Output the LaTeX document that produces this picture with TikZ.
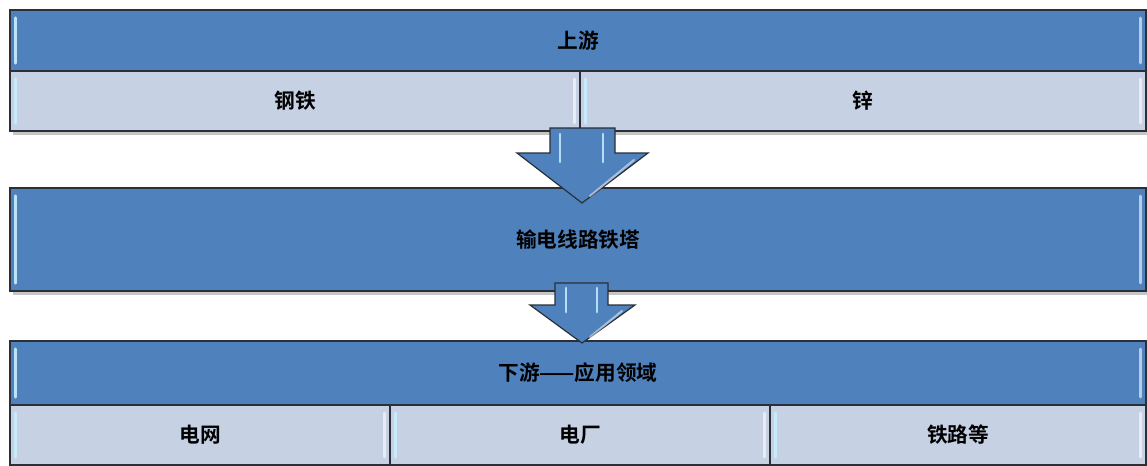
\documentclass[tikz,border=0pt]{standalone}
\usepackage{fontspec}
\newfontfamily\cjk{Noto Sans CJK SC Bold}
\definecolor{hdrblue}{HTML}{4F81BD}
\definecolor{rowblue}{HTML}{C6D1E4}
\definecolor{edge}{HTML}{2A2F38}
\definecolor{glint}{HTML}{C8EEFF}
\tikzset{
  cell/.style={draw=edge, line width=0.9pt, inner sep=0pt, font=\cjk\fontsize{15.5}{18}\selectfont,
    path picture={
      \draw[glint, line width=2.4pt, line cap=round, opacity=0.9]
        ([xshift=4pt,yshift=-6pt]path picture bounding box.north west) --
        ([xshift=4pt,yshift=6pt]path picture bounding box.south west);
      \draw[white, line width=2pt, line cap=round, opacity=0.6]
        ([xshift=-4pt,yshift=-6pt]path picture bounding box.north east) --
        ([xshift=-4pt,yshift=6pt]path picture bounding box.south east);
    }},
  hdr/.style={cell, fill=hdrblue, text=black},
  row/.style={cell, fill=rowblue, text=black},
  blockarrow/.style={draw=edge, line width=0.9pt, fill=hdrblue, line join=miter},
  shine/.style={glint, line width=2.2pt, line cap=round, opacity=0.85},
  boxshadow/.style={fill=black!45, opacity=0.5}
}
\begin{document}
\begin{tikzpicture}[x=0.75pt, y=-0.75pt]
\useasboundingbox (0,0) rectangle (1147,465);
\fill[white] (0,0) rectangle (1147,465);
% shadows
\fill[boxshadow] (13,14) rectangle (1150,135);
\fill[boxshadow] (13,192) rectangle (1150,295);
\fill[boxshadow] (13,345) rectangle (1150,470);
% top block
\node[hdr, minimum width=852pt, minimum height=45.75pt] (up) at (578,40.5) {上游};
\node[row, minimum width=427.5pt, minimum height=45pt] (steel) at (295,101) {钢铁};
\node[row, minimum width=424.5pt, minimum height=45pt] (zinc) at (863,101) {锌};
% middle block
\node[hdr, minimum width=852pt, minimum height=77.25pt] (tower) at (578,239.5) {输电线路铁塔};
% bottom block
\node[hdr, minimum width=852pt, minimum height=48pt] (down) at (578,373) {下游——应用领域};
\node[row, minimum width=285pt, minimum height=45pt] (grid) at (200,435) {电网};
\node[row, minimum width=285pt, minimum height=45pt] (plant) at (580,435) {电厂};
\node[row, minimum width=282pt, minimum height=45pt] (rail) at (958,435) {铁路等};
% arrow 1
\draw[blockarrow] (550,128) -- (550,153) -- (517,153) -- (582,203) -- (648,153) -- (615,153) -- (615,128) -- cycle;
\draw[shine] (560,134) -- (560,162);
\draw[shine] (603,134) -- (603,162);
\draw[white, line width=1.6pt, opacity=0.5, line cap=round] (590,196) -- (634,160);
% arrow 2
\draw[blockarrow] (555,283) -- (555,305) -- (530,305) -- (582,343) -- (635,305) -- (608,305) -- (608,283) -- cycle;
\draw[shine] (566,288) -- (566,312);
\draw[shine] (597,288) -- (597,312);
\draw[white, line width=1.6pt, opacity=0.5, line cap=round] (590,337) -- (622,311);
\end{tikzpicture}
\end{document}
